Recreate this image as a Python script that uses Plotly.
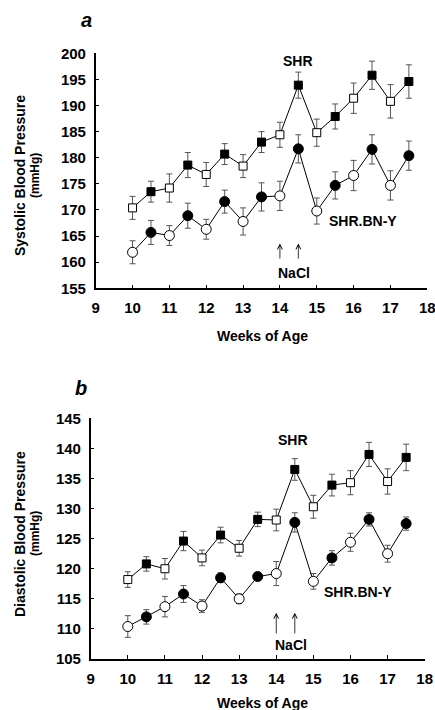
import plotly.graph_objects as go

weeks = [10, 10.5, 11, 11.5, 12, 12.5, 13, 13.5, 14, 14.5, 15, 15.5, 16, 16.5, 17, 17.5]

sbp_shr = [170.4, 173.5, 174.2, 178.6, 176.8, 180.7, 178.4, 183.0, 184.4, 193.9, 184.8, 187.9, 191.4, 195.8, 190.8, 194.6]
sbp_shr_err = [2.2, 2.0, 2.7, 2.4, 2.3, 2.0, 2.2, 2.0, 2.4, 2.5, 2.6, 2.4, 2.9, 2.7, 3.2, 3.2]
sbp_bny = [161.9, 165.7, 165.1, 168.9, 166.3, 171.6, 167.8, 172.5, 172.7, 181.7, 169.8, 174.7, 176.6, 181.6, 174.7, 180.4]
sbp_bny_err = [2.2, 2.3, 1.9, 2.4, 1.9, 2.2, 2.6, 2.7, 2.8, 2.7, 2.5, 2.6, 2.9, 2.8, 2.8, 2.8]

dbp_shr = [118.2, 120.8, 120.0, 124.6, 121.8, 125.6, 123.4, 128.2, 128.1, 136.5, 130.3, 133.9, 134.3, 139.0, 134.5, 138.5]
dbp_shr_err = [1.3, 1.2, 1.7, 1.6, 1.3, 1.3, 1.3, 1.2, 1.8, 1.8, 1.9, 1.8, 2.0, 2.0, 2.1, 2.2]
dbp_bny = [110.4, 112.0, 113.7, 115.8, 113.8, 118.5, 115.0, 118.7, 119.2, 127.7, 117.9, 121.8, 124.4, 128.2, 122.5, 127.5]
dbp_bny_err = [1.8, 1.2, 1.7, 1.4, 1.05, 0.8, 0.8, 0.6, 2.0, 1.6, 1.3, 1.2, 1.5, 1.1, 1.4, 1.1]

x_ticks = [9, 10, 11, 12, 13, 14, 15, 16, 17, 18]
sbp_ticks = [155, 160, 165, 170, 175, 180, 185, 190, 195, 200]
dbp_ticks = [105, 110, 115, 120, 125, 130, 135, 140, 145]

fill = ["black" if (w % 1) == 0.5 else "white" for w in weeks]

FONT = "Liberation Sans, Arial, sans-serif"

fig = go.Figure()


def add_series(y, err, symbol, size, xa, ya):
    fig.add_trace(go.Scatter(
        x=weeks, y=y, mode="lines+markers", xaxis=xa, yaxis=ya,
        line=dict(color="black", width=1),
        marker=dict(symbol=symbol, size=size, color=fill,
                    line=dict(color="black", width=1)),
        error_y=dict(type="data", array=err, visible=True,
                     color="#555555", thickness=1, width=3),
        showlegend=False, cliponaxis=False,
    ))


add_series(sbp_shr, sbp_shr_err, "square", 8, "x", "y")
add_series(sbp_bny, sbp_bny_err, "circle", 10, "x", "y")
add_series(dbp_shr, dbp_shr_err, "square", 8, "x2", "y2")
add_series(dbp_bny, dbp_bny_err, "circle", 10, "x2", "y2")

axis_common = dict(
    showline=True, linecolor="black", linewidth=1.5,
    ticks="inside", ticklen=4, tickcolor="black", tickwidth=1,
    showgrid=False, zeroline=False, automargin=False,
    tickfont=dict(family=FONT, size=15, color="black", weight="bold"),
    ticklabelstandoff=5, ticklabeloverflow="allow",
)

fig.update_layout(
    width=435, height=710, autosize=False,
    margin=dict(l=0, r=0, t=0, b=0, autoexpand=False),
    paper_bgcolor="white", plot_bgcolor="white",
    xaxis=dict(domain=[95.7 / 435, 427.3 / 435], range=[9, 18],
               tickvals=x_ticks, anchor="y", **axis_common),
    yaxis=dict(domain=[1 - 288.3 / 710, 1 - 53.3 / 710], range=[155, 200],
               tickvals=sbp_ticks, anchor="x", **axis_common),
    xaxis2=dict(domain=[90.7 / 435, 424.7 / 435], range=[9, 18],
                tickvals=x_ticks, anchor="y2", **axis_common),
    yaxis2=dict(domain=[1 - 659 / 710, 1 - 418.3 / 710], range=[105, 145],
                tickvals=dbp_ticks, anchor="x2", **axis_common),
)

ann = []


def txt(text, x, y, xref, yref, size=14):
    ann.append(dict(text=text, x=x, y=y, xref=xref, yref=yref, showarrow=False,
                    xanchor="center", yanchor="middle",
                    font=dict(family=FONT, size=size, color="black", weight="bold")))


def arrow(x, y_tail, y_head, xref, yref):
    ann.append(dict(text="", x=x, y=y_head, ax=x, ay=y_tail, xref=xref, yref=yref,
                    axref=xref, ayref=yref, showarrow=True, arrowhead=5,
                    arrowsize=1.2, arrowwidth=0.8, arrowcolor="black"))


# panel a
txt("<i>a</i>", 86 / 435, 1 - 20 / 710, "paper", "paper", size=20)
txt("SHR", 14.48, 198.5, "x", "y")
txt("SHR.BN-Y", 16.26, 167.8, "x", "y")
txt("NaCl", 14.38, 158.0, "x", "y")
arrow(14, 160.4, 163.6, "x", "y")
arrow(14.5, 160.4, 163.6, "x", "y")

# panel b
txt("<i>b</i>", 81 / 435, 1 - 388 / 710, "paper", "paper", size=20)
txt("SHR", 14.46, 141.4, "x2", "y2")
txt("SHR.BN-Y", 16.2, 116.2, "x2", "y2")
txt("NaCl", 14.4, 107.3, "x2", "y2")
arrow(14, 109.0, 112.7, "x2", "y2")
arrow(14.5, 109.0, 112.7, "x2", "y2")


def ptitle(text, x, y, size, angle=0):
    ann.append(dict(text=text, x=x / 435, y=1 - y / 710, xref="paper", yref="paper",
                    showarrow=False, textangle=angle, xanchor="center", yanchor="middle",
                    font=dict(family=FONT, size=size, color="black", weight="bold")))


ptitle("Systolic Blood Pressure", 20, 176, 14, -90)
ptitle("(mmHg)", 35, 176, 12, -90)
ptitle("Diastolic Blood Pressure", 20, 534, 14, -90)
ptitle("(mmHg)", 35, 534, 12, -90)
ptitle("Weeks of Age", 262, 336, 14)
ptitle("Weeks of Age", 262, 703, 14)

fig.update_layout(annotations=ann)
fig.write_html(
    "out.html",
    config={"displayModeBar": False},
    post_script="document.body.style.margin='0px';document.body.style.overflow='hidden';",
)
